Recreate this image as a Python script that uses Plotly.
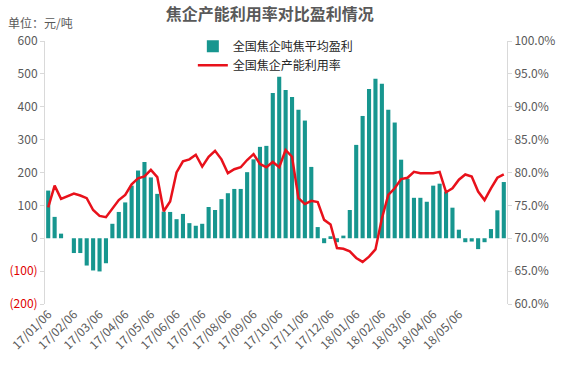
import pandas as pd
import plotly.graph_objects as go

# ---- data ----
weeks = list(pd.date_range("2017-01-06", periods=72, freq="7D").strftime("%Y-%m-%d"))
tick_labels = ["17/01/06", "17/02/06", "17/03/06", "17/04/06", "17/05/06", "17/06/06",
               "17/07/06", "17/08/06", "17/09/06", "17/10/06", "17/11/06", "17/12/06",
               "18/01/06", "18/02/06", "18/03/06", "18/04/06", "18/05/06"]
profit = [145, 65, 14, None, -45, -45, -83, -98, -101, -76,
          44, 80, 109, 160, 206, 232, 185, 135, 81, 80,
          58, 74, 46, 38, 44, 95, 86, 119, 137, 150,
          150, 201, 240, 278, 281, 442, 491, 451, 430, 391,
          358, 217, 34, -15, 6, -12, 8, 86, 284, 372,
          454, 485, 470, 391, 352, 239, 181, 123, 123, 111,
          160, 166, 142, 93, 26, -12, -10, -33, -12, 28,
          85, 171]
utilization = [74.7, 78.0, 76.0, 76.4, 76.8, 76.5, 76.1, 74.3, 73.4, 73.2,
               74.6, 75.8, 76.6, 78.2, 79.1, 79.4, 80.4, 79.3, 74.1, 75.6,
               80.0, 81.7, 82.0, 82.7, 80.9, 82.4, 83.3, 82.0, 79.9, 80.5,
               80.8, 81.9, 82.8, 81.3, 80.8, 81.6, 80.8, 83.4, 82.4, 76.1,
               75.2, 75.7, 75.5, 72.8, 72.1, 68.5, 68.4, 68.0, 67.0, 66.4,
               67.2, 68.3, 73.0, 76.6, 77.6, 79.0, 79.2, 80.1, 79.9, 79.9,
               79.9, 80.1, 77.0, 77.6, 78.9, 79.7, 79.4, 77.1, 75.8, 77.6,
               79.2, 79.7]
left_ticks = [600, 500, 400, 300, 200, 100, 0, -100, -200]
left_tick_text = ["600", "500", "400", "300", "200", "100", "0",
                  '<span style="color:#e00000">(100)</span>',
                  '<span style="color:#e00000">(200)</span>']
right_ticks = [100, 95, 90, 85, 80, 75, 70, 65, 60]
right_tick_text = ["100.0%", "95.0%", "90.0%", "85.0%", "80.0%", "75.0%", "70.0%", "65.0%", "60.0%"]

FONT = "Noto Sans CJK SC"
GRAY = "#595959"
AXIS = "#d9d9d9"

fig = go.Figure()
fig.add_trace(go.Bar(x=weeks, y=profit, name="全国焦企吨焦平均盈利",
                     marker=dict(color="#17968f", line=dict(width=0)), yaxis="y"))
fig.add_trace(go.Scatter(x=weeks, y=utilization, name="全国焦企产能利用率", mode="lines",
                         line=dict(color="#e8111b", width=2.5), yaxis="y2"))

fig.update_layout(
    width=568, height=369,
    margin=dict(l=45, r=61, t=41, b=65, autoexpand=False),
    paper_bgcolor="white", plot_bgcolor="white",
    font=dict(family=FONT, size=12, color=GRAY),
    bargap=0.36,
    showlegend=True,
    title=dict(text="<b>焦企产能利用率对比盈利情况</b>", x=0.475, xref="container", xanchor="center",
               y=0.962, yanchor="middle", font=dict(size=16, color=GRAY, family=FONT)),
    legend=dict(x=0.32, y=1.035, xanchor="left", yanchor="top",
                bgcolor="rgba(0,0,0,0)", font=dict(size=12, color="#262626", family=FONT),
                itemwidth=30, tracegroupgap=0),
    xaxis=dict(type="category", categoryorder="array", categoryarray=weeks,
               tickmode="array", tickvals=weeks[0:65:4], ticktext=tick_labels,
               tickangle=-45, showgrid=False, showline=False, ticks="", automargin=False,
               tickfont=dict(size=12, color=GRAY), range=[-0.5, 71.5]),
    yaxis=dict(range=[-200, 600], tickmode="array", tickvals=left_ticks, ticktext=left_tick_text,
               showgrid=False, zeroline=False, showline=True, linecolor=AXIS, linewidth=1,
               ticks="outside", ticklen=4, tickcolor=AXIS, automargin=False,
               tickfont=dict(size=12, color=GRAY)),
    yaxis2=dict(range=[60, 100], overlaying="y", side="right", tickmode="array",
                tickvals=right_ticks, ticktext=right_tick_text,
                showgrid=False, zeroline=False, showline=True, linecolor=AXIS, linewidth=1,
                ticks="outside", ticklen=4, tickcolor=AXIS, automargin=False,
                tickfont=dict(size=12, color=GRAY)),
    annotations=[dict(text="单位：元/吨", xref="paper", yref="paper", x=-0.085, y=1.07,
                      xanchor="left", yanchor="middle", showarrow=False,
                      font=dict(size=12, color=GRAY, family=FONT))],
)

fig.write_html("out.html", config={"displayModeBar": False},
               post_script="document.body.style.margin='0px';document.body.style.overflow='hidden';")
